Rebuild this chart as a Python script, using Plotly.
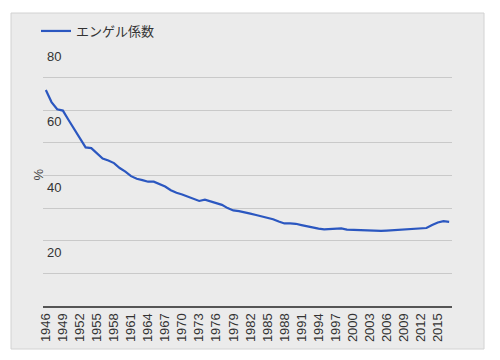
import plotly.graph_objects as go

years = [str(y) for y in range(1946, 2018)]
engel = [66.2, 62.5, 60.3, 59.9, 57.0, 54.2, 51.3, 48.6, 48.4, 46.8,
         45.2, 44.6, 43.8, 42.3, 41.2, 39.8, 39.0, 38.6, 38.1, 38.1,
         37.4, 36.6, 35.5, 34.7, 34.2, 33.6, 32.9, 32.2, 32.6, 32.1,
         31.6, 31.0, 30.0, 29.3, 29.1, 28.8, 28.3, 27.9, 27.5, 27.1,
         26.6, 25.9, 25.3, 25.3, 25.2, 24.8, 24.4, 24.1, 23.7, 23.5,
         23.6, 23.9, 23.8, 23.4, 23.3, 23.3, 23.2, 23.0, 22.9, 23.0,
         23.1, 23.2, 23.3, 23.3, 23.5, 23.5, 23.6, 23.9, 24.8, 25.6,
         26.0, 25.8]
x_ticks = years[::3]
y_gridvals = [0, 10, 20, 30, 40, 50, 60, 70, 80]
y_labelvals = [20, 40, 60, 80]
series_name = "エンゲル係数"
y_title = "%"

FONT = "Liberation Sans, Arial, Noto Sans CJK JP, sans-serif"

fig = go.Figure()
fig.add_trace(go.Scatter(x=years, y=engel, mode="lines", name=series_name,
                         line=dict(color="#2b57c0", width=2.2)))

L, R, T, B = 43, 48, 45, 54
W, H = 500, 360
pw, ph = W - L - R, H - T - B
def px(x):
    return (x - L) / pw
def py(y):
    return (H - B - y) / ph

fig.add_shape(type="rect", xref="paper", yref="paper",
              x0=px(11), x1=px(484), y0=py(349), y1=py(13),
              fillcolor="#ebebeb", line=dict(color="#d2d2d2", width=1),
              layer="below")

fig.add_annotation(text=y_title, xref="paper", yref="paper",
                   x=px(28), y=py(175), showarrow=False, textangle=-90,
                   font=dict(size=13, color="#444", family=FONT))

for v in y_labelvals:
    fig.add_annotation(text=str(v), xref="paper", yref="y", x=px(45), y=v,
                       xanchor="left", yanchor="top", yshift=-2,
                       showarrow=False,
                       font=dict(size=13, color="#333", family=FONT))

fig.update_layout(
    width=W, height=H,
    margin=dict(l=L, r=R, t=T, b=B),
    paper_bgcolor="white",
    plot_bgcolor="rgba(0,0,0,0)",
    font=dict(family=FONT, size=13, color="#333"),
    showlegend=True,
    legend=dict(orientation="h", x=px(36), xanchor="left", y=py(16),
                yanchor="top", bgcolor="rgba(0,0,0,0)",
                font=dict(size=13, color="#333"), itemwidth=30),
    xaxis=dict(type="category", tickmode="array", tickvals=x_ticks,
               ticktext=x_ticks, tickangle=-90, showgrid=False,
               range=[-0.5, len(years) - 0.5], autorange=False,
               showline=True, linecolor="#555", linewidth=2,
               ticks="", tickfont=dict(size=13, color="#333"),
               zeroline=False),
    yaxis=dict(range=[0, 80], autorange=False, tickmode="array",
               tickvals=y_gridvals, showticklabels=False,
               showgrid=True, gridcolor="#c9c9c9",
               gridwidth=1, zeroline=False, showline=False, ticks=""),
)

fig.write_html("out.html")
